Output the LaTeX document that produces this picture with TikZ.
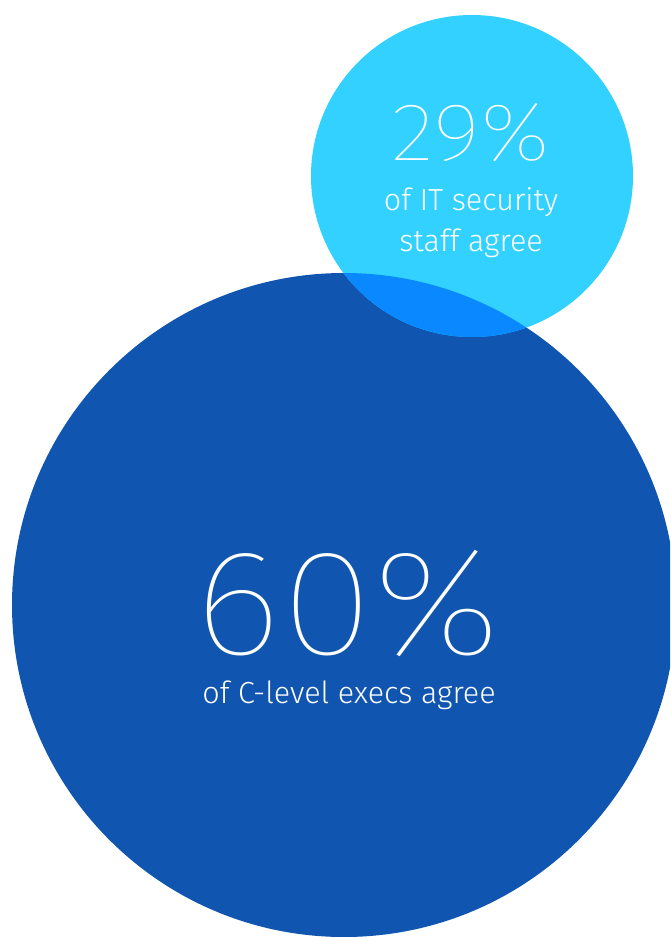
\documentclass[tikz,border=0pt]{standalone}
\usepackage{fontspec}
\setmainfont{Fira Sans Light}
\newfontfamily\thinfont{Fira Sans Thin}
\definecolor{bigblue}{HTML}{1055AF}
\definecolor{skyblue}{HTML}{33D1FF}
\definecolor{overlapblue}{HTML}{0A88FF}
\begin{document}
\begin{tikzpicture}[x=1pt,y=-1pt,
  num/.style={text=white,anchor=base,inner sep=0pt,text depth=0pt},
  lbl/.style={text=white,anchor=base,inner sep=0pt,font=\fontsize{30.5}{36}\selectfont}]
\useasboundingbox (0,0) rectangle (670,937);
\begin{scope}
\clip (0,0) rectangle (670,937);
\fill[bigblue] (344,605) circle (332);
\fill[skyblue] (472,176) circle (161);
\begin{scope}
\clip (344,605) circle (332);
\fill[overlapblue] (472,176) circle (161);
\end{scope}
\end{scope}
\node[num,font=\thinfont\fontsize{82}{82}\selectfont] (p29) at (471,160) {\scalebox{1.12}[1]{29\%}};
\node[lbl] (l29a) at (471,210) {of IT security};
\node[lbl] (l29b) at (471,251) {staff agree};
\node[num,font=\thinfont\fontsize{150}{150}\selectfont] (p60) at (348,654) {\scalebox{1.13}[1]{60\%}};
\node[lbl] (l60) at (349,703) {of C-level execs agree};
\end{tikzpicture}
\end{document}
